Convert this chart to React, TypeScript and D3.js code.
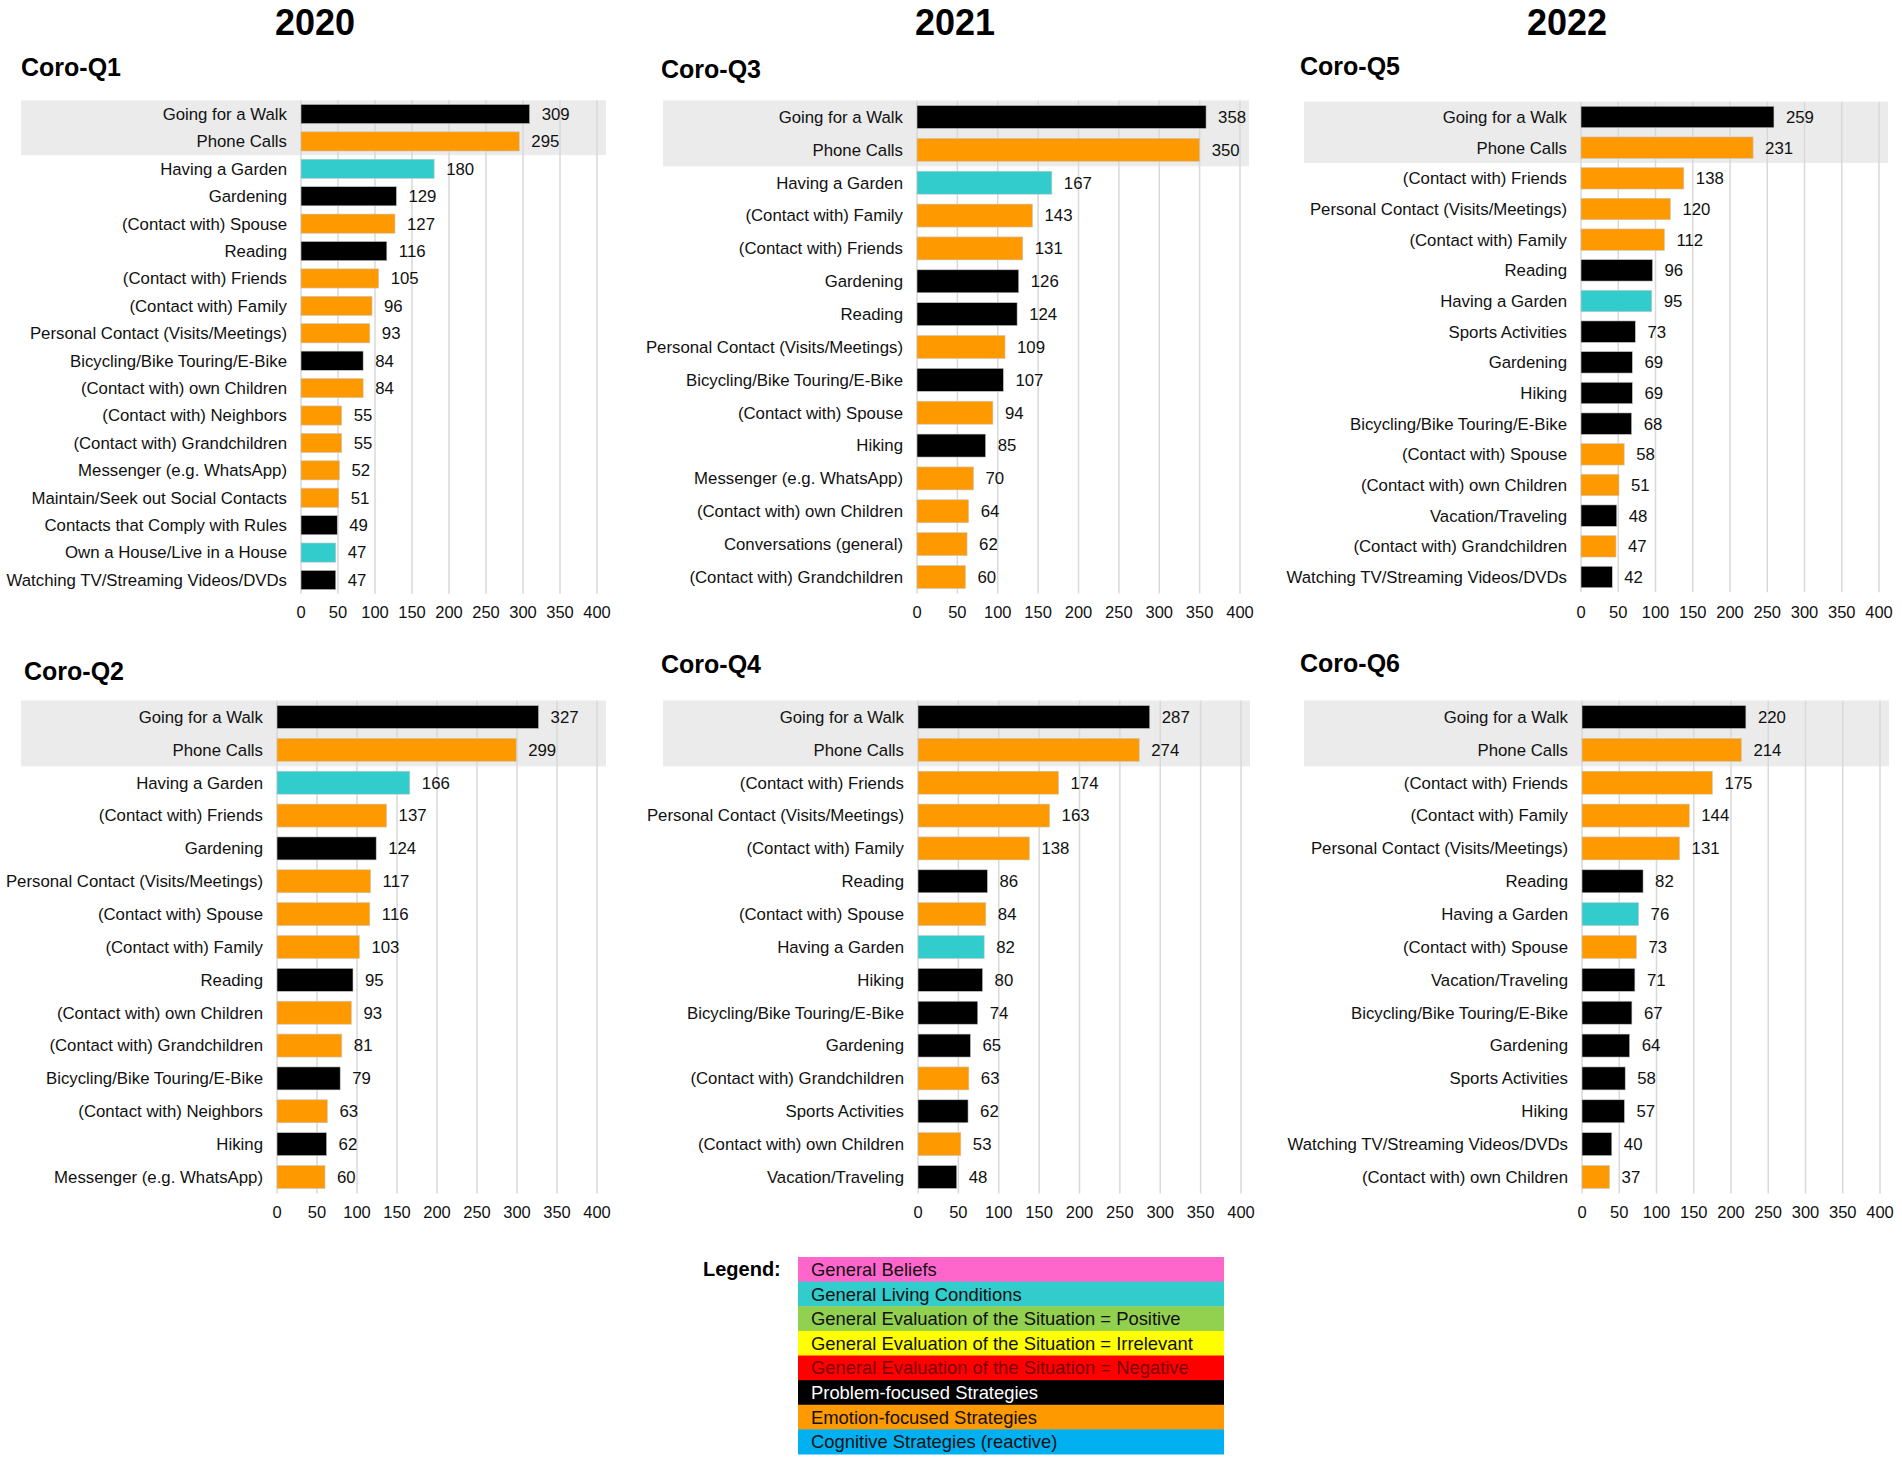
import { useEffect, useRef } from "react"
import * as d3 from "d3"

// group codes: P = problem-focused, E = emotion-focused, L = general living conditions
const q1Labels = [
  "Going for a Walk", "Phone Calls", "Having a Garden", "Gardening", "(Contact with) Spouse", "Reading",
  "(Contact with) Friends", "(Contact with) Family", "Personal Contact (Visits/Meetings)",
  "Bicycling/Bike Touring/E-Bike", "(Contact with) own Children", "(Contact with) Neighbors",
  "(Contact with) Grandchildren", "Messenger (e.g. WhatsApp)", "Maintain/Seek out Social Contacts",
  "Contacts that Comply with Rules", "Own a House/Live in a House", "Watching TV/Streaming Videos/DVDs",
]
const q1Values = [309, 295, 180, 129, 127, 116, 105, 96, 93, 84, 84, 55, 55, 52, 51, 49, 47, 47]
const q1Groups = ["P", "E", "L", "P", "E", "P", "E", "E", "E", "P", "E", "E", "E", "E", "E", "P", "L", "P"]

const q2Labels = [
  "Going for a Walk", "Phone Calls", "Having a Garden", "(Contact with) Friends", "Gardening",
  "Personal Contact (Visits/Meetings)", "(Contact with) Spouse", "(Contact with) Family", "Reading",
  "(Contact with) own Children", "(Contact with) Grandchildren", "Bicycling/Bike Touring/E-Bike",
  "(Contact with) Neighbors", "Hiking", "Messenger (e.g. WhatsApp)",
]
const q2Values = [327, 299, 166, 137, 124, 117, 116, 103, 95, 93, 81, 79, 63, 62, 60]
const q2Groups = ["P", "E", "L", "E", "P", "E", "E", "E", "P", "E", "E", "P", "E", "P", "E"]

const q3Labels = [
  "Going for a Walk", "Phone Calls", "Having a Garden", "(Contact with) Family", "(Contact with) Friends",
  "Gardening", "Reading", "Personal Contact (Visits/Meetings)", "Bicycling/Bike Touring/E-Bike",
  "(Contact with) Spouse", "Hiking", "Messenger (e.g. WhatsApp)", "(Contact with) own Children",
  "Conversations (general)", "(Contact with) Grandchildren",
]
const q3Values = [358, 350, 167, 143, 131, 126, 124, 109, 107, 94, 85, 70, 64, 62, 60]
const q3Groups = ["P", "E", "L", "E", "E", "P", "P", "E", "P", "E", "P", "E", "E", "E", "E"]

const q4Labels = [
  "Going for a Walk", "Phone Calls", "(Contact with) Friends", "Personal Contact (Visits/Meetings)",
  "(Contact with) Family", "Reading", "(Contact with) Spouse", "Having a Garden", "Hiking",
  "Bicycling/Bike Touring/E-Bike", "Gardening", "(Contact with) Grandchildren", "Sports Activities",
  "(Contact with) own Children", "Vacation/Traveling",
]
const q4Values = [287, 274, 174, 163, 138, 86, 84, 82, 80, 74, 65, 63, 62, 53, 48]
const q4Groups = ["P", "E", "E", "E", "E", "P", "E", "L", "P", "P", "P", "E", "P", "E", "P"]

const q5Labels = [
  "Going for a Walk", "Phone Calls", "(Contact with) Friends", "Personal Contact (Visits/Meetings)",
  "(Contact with) Family", "Reading", "Having a Garden", "Sports Activities", "Gardening", "Hiking",
  "Bicycling/Bike Touring/E-Bike", "(Contact with) Spouse", "(Contact with) own Children",
  "Vacation/Traveling", "(Contact with) Grandchildren", "Watching TV/Streaming Videos/DVDs",
]
const q5Values = [259, 231, 138, 120, 112, 96, 95, 73, 69, 69, 68, 58, 51, 48, 47, 42]
const q5Groups = ["P", "E", "E", "E", "E", "P", "L", "P", "P", "P", "P", "E", "E", "P", "E", "P"]

const q6Labels = [
  "Going for a Walk", "Phone Calls", "(Contact with) Friends", "(Contact with) Family",
  "Personal Contact (Visits/Meetings)", "Reading", "Having a Garden", "(Contact with) Spouse",
  "Vacation/Traveling", "Bicycling/Bike Touring/E-Bike", "Gardening", "Sports Activities", "Hiking",
  "Watching TV/Streaming Videos/DVDs", "(Contact with) own Children",
]
const q6Values = [220, 214, 175, 144, 131, 82, 76, 73, 71, 67, 64, 58, 57, 40, 37]
const q6Groups = ["P", "E", "E", "E", "E", "P", "L", "E", "P", "P", "P", "P", "P", "P", "E"]

const years = ["2020", "2021", "2022"]
const ticks = [0, 50, 100, 150, 200, 250, 300, 350, 400]

const legendLabels = [
  "General Beliefs",
  "General Living Conditions",
  "General Evaluation of the Situation = Positive",
  "General Evaluation of the Situation = Irrelevant",
  "General Evaluation of the Situation = Negative",
  "Problem-focused Strategies",
  "Emotion-focused Strategies",
  "Cognitive Strategies (reactive)",
]
const legendColors = ["#ff66cc", "#33cccc", "#92d050", "#ffff00", "#ff0000", "#000000", "#ff9900", "#00b0f0"]
const legendText = ["#111", "#111", "#111", "#111", "#7a0000", "#fff", "#111", "#111"]

const groupColor = { P: "#000000", E: "#ff9900", L: "#33cccc" }

const FONT = "'Liberation Sans', Arial, sans-serif"

export default function App() {
  const svgRef = useRef(null)

  useEffect(() => {
    const svg = d3.select(svgRef.current)
    svg.selectAll("*").remove()

    const width = 1902
    const height = 1460
    svg.append("rect").attr("width", width).attr("height", height).attr("fill", "#fff")

    // year headings
    const yearX = [315, 955, 1567]
    years.forEach((yr, i) => {
      svg.append("text")
        .attr("x", yearX[i]).attr("y", 35)
        .attr("text-anchor", "middle")
        .attr("font-family", FONT).attr("font-weight", "bold").attr("font-size", 36)
        .text(yr)
    })

    const panels = [
      { title: "Coro-Q1", labels: q1Labels, values: q1Values, groups: q1Groups, x0: 301, x1: 597, y0: 114, y1: 580, band: 21, tx: 21, ty: 76, axisY: 618 },
      { title: "Coro-Q3", labels: q3Labels, values: q3Values, groups: q3Groups, x0: 917, x1: 1240, y0: 117, y1: 577, band: 663, tx: 661, ty: 78, axisY: 618 },
      { title: "Coro-Q5", labels: q5Labels, values: q5Values, groups: q5Groups, x0: 1581, x1: 1879, y0: 117, y1: 577, band: 1304, tx: 1300, ty: 75, axisY: 618 },
      { title: "Coro-Q2", labels: q2Labels, values: q2Values, groups: q2Groups, x0: 277, x1: 597, y0: 717, y1: 1177, band: 21, tx: 24, ty: 680, axisY: 1218 },
      { title: "Coro-Q4", labels: q4Labels, values: q4Values, groups: q4Groups, x0: 918, x1: 1241, y0: 717, y1: 1177, band: 663, tx: 661, ty: 673, axisY: 1218 },
      { title: "Coro-Q6", labels: q6Labels, values: q6Values, groups: q6Groups, x0: 1582, x1: 1880, y0: 717, y1: 1177, band: 1304, tx: 1300, ty: 672, axisY: 1218 },
    ]

    panels.forEach((p) => {
      const n = p.labels.length
      const step = (p.y1 - p.y0) / (n - 1)
      const x = d3.scaleLinear().domain([0, 400]).range([p.x0, p.x1])
      const y = d3.scaleBand().domain(p.labels)
        .range([p.y0 - step / 2, p.y1 + step / 2])
        .paddingInner(0.3).paddingOuter(0.15)
      const g = svg.append("g")

      // title
      g.append("text")
        .attr("x", p.tx).attr("y", p.ty)
        .attr("font-family", FONT).attr("font-weight", "bold").attr("font-size", 25)
        .text(p.title)

      // highlight band behind the top two rows
      g.append("rect")
        .attr("x", p.band).attr("y", p.y0 - step / 2)
        .attr("width", x(400) + 9 - p.band).attr("height", step * 2)
        .attr("fill", "#ebebeb")

      // gridlines
      g.selectAll("line.grid").data(ticks).enter().append("line")
        .attr("x1", (d) => x(d)).attr("x2", (d) => x(d))
        .attr("y1", p.y0 - step / 2).attr("y2", p.y1 + step / 2)
        .attr("stroke", "#d9d9d9").attr("stroke-width", 1.5)

      // tick labels
      g.selectAll("text.tick").data(ticks).enter().append("text")
        .attr("x", (d) => x(d)).attr("y", p.axisY)
        .attr("text-anchor", "middle")
        .attr("font-family", FONT).attr("font-size", 16.5).attr("fill", "#111")
        .text((d) => d)

      const rows = p.labels.map((l, i) => ({ label: l, value: p.values[i], group: p.groups[i] }))

      g.selectAll("rect.bar").data(rows).enter().append("rect")
        .attr("x", x(0)).attr("y", (d) => y(d.label))
        .attr("width", (d) => x(d.value) - x(0)).attr("height", y.bandwidth())
        .attr("fill", (d) => groupColor[d.group])
        .attr("stroke", "#c8c8c8").attr("stroke-width", 0.6)

      g.selectAll("text.cat").data(rows).enter().append("text")
        .attr("x", x(0) - 14).attr("y", (d) => y(d.label) + y.bandwidth() / 2)
        .attr("dy", "0.35em").attr("text-anchor", "end")
        .attr("font-family", FONT).attr("font-size", 16.8).attr("fill", "#111")
        .text((d) => d.label)

      g.selectAll("text.val").data(rows).enter().append("text")
        .attr("x", (d) => x(d.value) + 12).attr("y", (d) => y(d.label) + y.bandwidth() / 2)
        .attr("dy", "0.35em")
        .attr("font-family", FONT).attr("font-size", 16.8).attr("fill", "#111")
        .text((d) => d.value)
    })

    // legend
    const lg = svg.append("g")
    lg.append("text")
      .attr("x", 703).attr("y", 1276)
      .attr("font-family", FONT).attr("font-weight", "bold").attr("font-size", 20)
      .text("Legend:")
    const ly = d3.scaleBand().domain(legendLabels).range([1257, 1454])
    legendLabels.forEach((l, i) => {
      lg.append("rect")
        .attr("x", 798).attr("y", ly(l))
        .attr("width", 426).attr("height", ly.bandwidth() + 0.5)
        .attr("fill", legendColors[i])
      lg.append("text")
        .attr("x", 811).attr("y", ly(l) + ly.bandwidth() / 2)
        .attr("dy", "0.36em")
        .attr("font-family", FONT).attr("font-size", 18.4).attr("fill", legendText[i])
        .text(l)
    })
  }, [])

  return (
    <svg
      ref={svgRef}
      width={1902}
      height={1460}
      style={{ position: "absolute", left: 0, top: 0, display: "block" }}
    />
  )
}
